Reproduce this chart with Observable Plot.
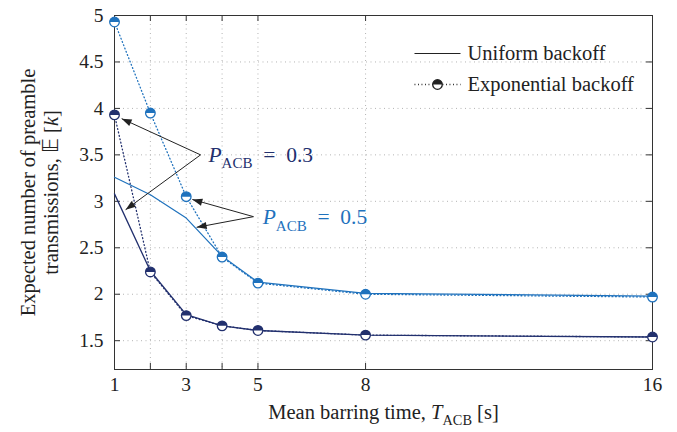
<!DOCTYPE html>
<html><head><meta charset="utf-8">
<script src="https://cdn.jsdelivr.net/npm/d3@7"></script>
<script src="https://cdn.jsdelivr.net/npm/@observablehq/plot@0.6"></script>
<style>body{margin:0;background:#fff}</style>
</head><body><div id="chart"></div><script>
// ---- data ----
const T = [1, 2, 3, 4, 5, 8, 16];
const uniform03 = [3.08, 2.25, 1.78, 1.66, 1.61, 1.56, 1.54];
const expo03    = [3.93, 2.24, 1.77, 1.66, 1.61, 1.56, 1.54];
const uniform05 = [3.26, 3.07, 2.82, 2.41, 2.13, 2.01, 1.98];
const expo05    = [4.93, 3.95, 3.05, 2.40, 2.12, 2.00, 1.97];
const xTickLabels = [1, 3, 5, 8, 16];
const yTicks = [1.5, 2, 2.5, 3, 3.5, 4, 4.5, 5];
const seriesNames = ["Uniform backoff", "Exponential backoff"];
const annLabels = ["0.3", "0.5"];
const annPos = [[3.62, 3.50], [5.13, 2.825]];
const arrowFrom = [[3.40, 3.50], [3.40, 3.50], [4.875, 2.835], [4.875, 2.835]];
const arrowTo   = [[1.20, 3.89], [1.31, 2.91], [3.17, 3.02], [3.29, 2.72]];

// ---- style ----
const navy = "#22306e", blue = "#1f72bd", ink = "#222";
const W = 677, H = 432, mL = 114, mR = 25, mT = 15, mB = 63;
const plotW = W - mL - mR, plotH = H - mT - mB;
const xDom = [1, 16], yDom = [1.19, 5];
const FS = 20.5;

const rows = (vals) => T.map((t, i) => ({t, v: vals[i]}));
const U03 = rows(uniform03), E03 = rows(expo03), U05 = rows(uniform05), E05 = rows(expo05);

const halfTop = {draw(ctx, size) { const r = Math.sqrt(size / Math.PI); ctx.moveTo(r, 0); ctx.arc(0, 0, r, 0, Math.PI, true); ctx.closePath(); }};
const hLine = {draw(ctx) { ctx.moveTo(-23, 0); ctx.lineTo(23, 0); }};
const headSym = {draw(ctx) { ctx.moveTo(0, 0); ctx.lineTo(-10, -3.6); ctx.lineTo(-10, 3.6); ctx.closePath(); }};

const xs = d3.scaleLinear(xDom, [mL, W - mR]);
const ys = d3.scaleLinear(yDom, [H - mB, mT]);
const arrows = arrowFrom.map((f, i) => {
  const to = arrowTo[i];
  const ang = Math.atan2(ys(to[1]) - ys(f[1]), xs(to[0]) - xs(f[0])) * 180 / Math.PI;
  return {x1: f[0], y1: f[1], x2: to[0], y2: to[1], ang};
});
const anns = annLabels.map((l, i) => ({label: l, x: annPos[i][0], y: annPos[i][1], color: i === 0 ? navy : blue}));

const marker = (data, color, extra = {}) => [
  Plot.dot(data, {x: "t", y: "v", r: 4.8, fill: "white", ...extra}),
  Plot.dot(data, {x: "t", y: "v", r: 4.8, symbol: halfTop, fill: color, ...extra}),
  Plot.dot(data, {x: "t", y: "v", r: 4.8, fill: "none", stroke: color, strokeWidth: 1.3, ...extra})
];
const dotted = {strokeDasharray: "0.9,2.6", strokeWidth: 1.3};
const grid = {stroke: "#b4b4b4", strokeOpacity: 1, strokeDasharray: "1,3.5"};

const chart = Plot.plot({
  width: W, height: H, marginLeft: mL, marginRight: mR, marginTop: mT, marginBottom: mB,
  x: {domain: xDom, label: null},
  y: {domain: yDom, label: null},
  style: {fontFamily: '"Liberation Serif", "DejaVu Serif", serif', fontSize: "19px", color: ink, background: "#fff"},
  marks: [
    Plot.gridX(T.slice(1, -1), grid),
    Plot.gridY(yTicks.slice(0, -1), grid),
    Plot.frame({stroke: "#333", strokeWidth: 1}),
    Plot.tickX(T, {x: d => d, insetTop: plotH - 6, stroke: "#333"}),
    Plot.tickX(T, {x: d => d, insetBottom: plotH - 6, stroke: "#333"}),
    Plot.tickY(yTicks, {y: d => d, insetRight: plotW - 6, stroke: "#333"}),
    Plot.tickY(yTicks, {y: d => d, insetLeft: plotW - 6, stroke: "#333"}),
    Plot.axisX(xTickLabels, {tickSize: 0, tickPadding: 8, fontSize: 19.5, label: null, tickFormat: d => String(d)}),
    Plot.axisY(yTicks, {tickSize: 0, tickPadding: 11, fontSize: 19.5, label: null, tickFormat: d => String(d)}),
    Plot.line(E05, {x: "t", y: "v", stroke: blue, ...dotted}),
    Plot.line(E03, {x: "t", y: "v", stroke: navy, ...dotted}),
    Plot.line(U05, {x: "t", y: "v", stroke: blue, strokeWidth: 1.2}),
    Plot.line(U03, {x: "t", y: "v", stroke: navy, strokeWidth: 1.3}),
    ...marker(E05, blue),
    ...marker(E03, navy),
    // annotation arrows
    Plot.link(arrows, {x1: "x1", y1: "y1", x2: "x2", y2: "y2", stroke: ink, strokeWidth: 1}),
    Plot.dot(arrows, {x: "x2", y: "y2", symbol: headSym, rotate: "ang", fill: ink, r: 3}),
    Plot.text(anns, {x: "x", y: "y", text: "label", fill: "color", textAnchor: "start", lineAnchor: "middle", fontSize: 21.5, ariaDescription: "ann"}),
    // legend
    Plot.dot([0], {frameAnchor: "top-left", dx: 323, dy: 38, symbol: hLine, r: 1, fill: "none", stroke: ink, strokeWidth: 1.2}),
    Plot.dot([0], {frameAnchor: "top-left", dx: 323, dy: 69, symbol: hLine, r: 1, fill: "none", stroke: ink, ...dotted}),
    Plot.dot([0], {frameAnchor: "top-left", dx: 323, dy: 69, r: 4.8, fill: "white"}),
    Plot.dot([0], {frameAnchor: "top-left", dx: 323, dy: 69, r: 4.8, symbol: halfTop, fill: ink}),
    Plot.dot([0], {frameAnchor: "top-left", dx: 323, dy: 69, r: 4.8, fill: "none", stroke: ink, strokeWidth: 1.3}),
    Plot.text([seriesNames[0]], {frameAnchor: "top-left", dx: 353, dy: 38, text: d => d, textAnchor: "start", lineAnchor: "middle", fontSize: FS, fill: ink}),
    Plot.text([seriesNames[1]], {frameAnchor: "top-left", dx: 353, dy: 69, text: d => d, textAnchor: "start", lineAnchor: "middle", fontSize: FS, fill: ink}),
    // axis titles
    Plot.text(["Mean barring time, T_ACB [s]"], {frameAnchor: "bottom", dy: 43, text: d => d, lineAnchor: "middle", fontSize: FS, fill: ink, ariaDescription: "xlab"}),
    Plot.text(["Expected number of preamble"], {frameAnchor: "left", dx: -86, rotate: -90, text: d => d, textAnchor: "middle", lineAnchor: "middle", fontSize: FS, fill: ink}),
    Plot.text(["transmissions, E[k]"], {frameAnchor: "left", dx: -63, rotate: -90, text: d => d, textAnchor: "middle", lineAnchor: "middle", fontSize: FS, fill: ink, ariaDescription: "ylab2"})
  ]
});

// rich text helper (italic / subscripts)
function rich(node, parts, fs) {
  const t = d3.select(node); t.text(null);
  let shift = 0;
  for (const p of parts) {
    const s = t.append("tspan").text(p.t);
    const target = p.sub ? fs * 0.3 : 0;
    if (target !== shift) { s.attr("dy", target - shift); shift = target; }
    if (p.sub) s.attr("font-size", fs * 0.7);
    if (p.it) s.attr("font-style", "italic");
    if (p.font) s.attr("font-family", p.font);
  }
}
const svg = d3.select(chart);
svg.selectAll('[aria-description="ann"] text').each(function(d, i) {
  rich(this, [{t: "P", it: true}, {t: "ACB", sub: true}, {t: "\u2002=\u2002" + anns[i].label}], 21.5);
});
svg.selectAll('[aria-description="xlab"] text').each(function() {
  rich(this, [{t: "Mean barring time, "}, {t: "T", it: true}, {t: "ACB", sub: true}, {t: " [s]"}], FS);
});
svg.selectAll('[aria-description="ylab2"] text').each(function() {
  rich(this, [{t: "transmissions, "}, {t: "\u{1D53C}", font: '"DejaVu Sans", "DejaVu Serif", serif'}, {t: " ["}, {t: "k", it: true}, {t: "]"}], FS);
});
document.getElementById("chart").appendChild(chart);
</script></body></html>
